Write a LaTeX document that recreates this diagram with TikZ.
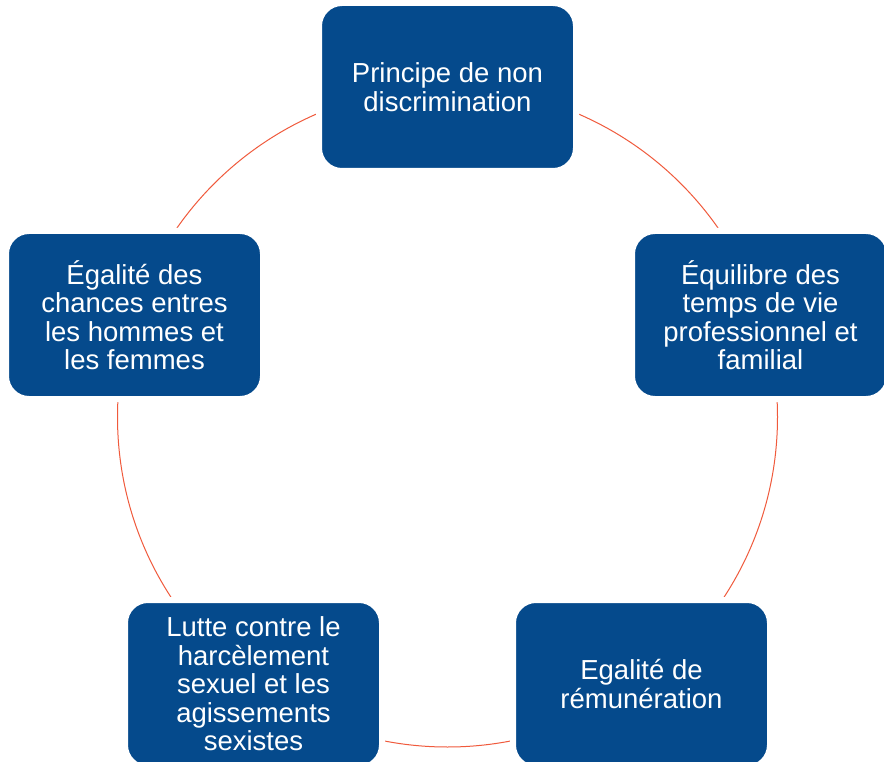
\documentclass[tikz,border=0pt]{standalone}
\usepackage{fontspec}
\setmainfont{Liberation Sans}
\definecolor{boxblue}{RGB}{5,74,140}
\definecolor{ringred}{RGB}{240,90,60}
\tikzset{
  cyclebox/.style={rectangle, rounded corners=23pt, fill=boxblue, draw=white, line width=6pt,
    minimum width=257pt, minimum height=168pt, align=center, text=white,
    font=\fontsize{27.5pt}{28.5pt}\selectfont, inner sep=0pt},
  ring/.style={draw=ringred, line width=1pt}
}
\begin{document}
\begin{tikzpicture}[x=1pt,y=-1pt]
\clip (0,0) rectangle (884,762);
\fill[white] (0,0) rectangle (884,762);
\coordinate (c) at (447.5,417);
\draw[ring] (c) circle[radius=330pt];
\node[cyclebox] (top) at (447.5,87) {Principe de non\\discrimination};
\node[cyclebox] (right) at (760.5,315) {Équilibre des\\temps de vie\\professionnel et\\familial};
\node[cyclebox] (bright) at (641.5,684) {Egalité de\\rémunération};
\node[cyclebox] (bleft) at (253.5,684) {Lutte contre le\\harcèlement\\sexuel et les\\agissements\\sexistes};
\node[cyclebox] (left) at (134.5,315) {Égalité des\\chances entres\\les hommes et\\les femmes};
\end{tikzpicture}
\end{document}
